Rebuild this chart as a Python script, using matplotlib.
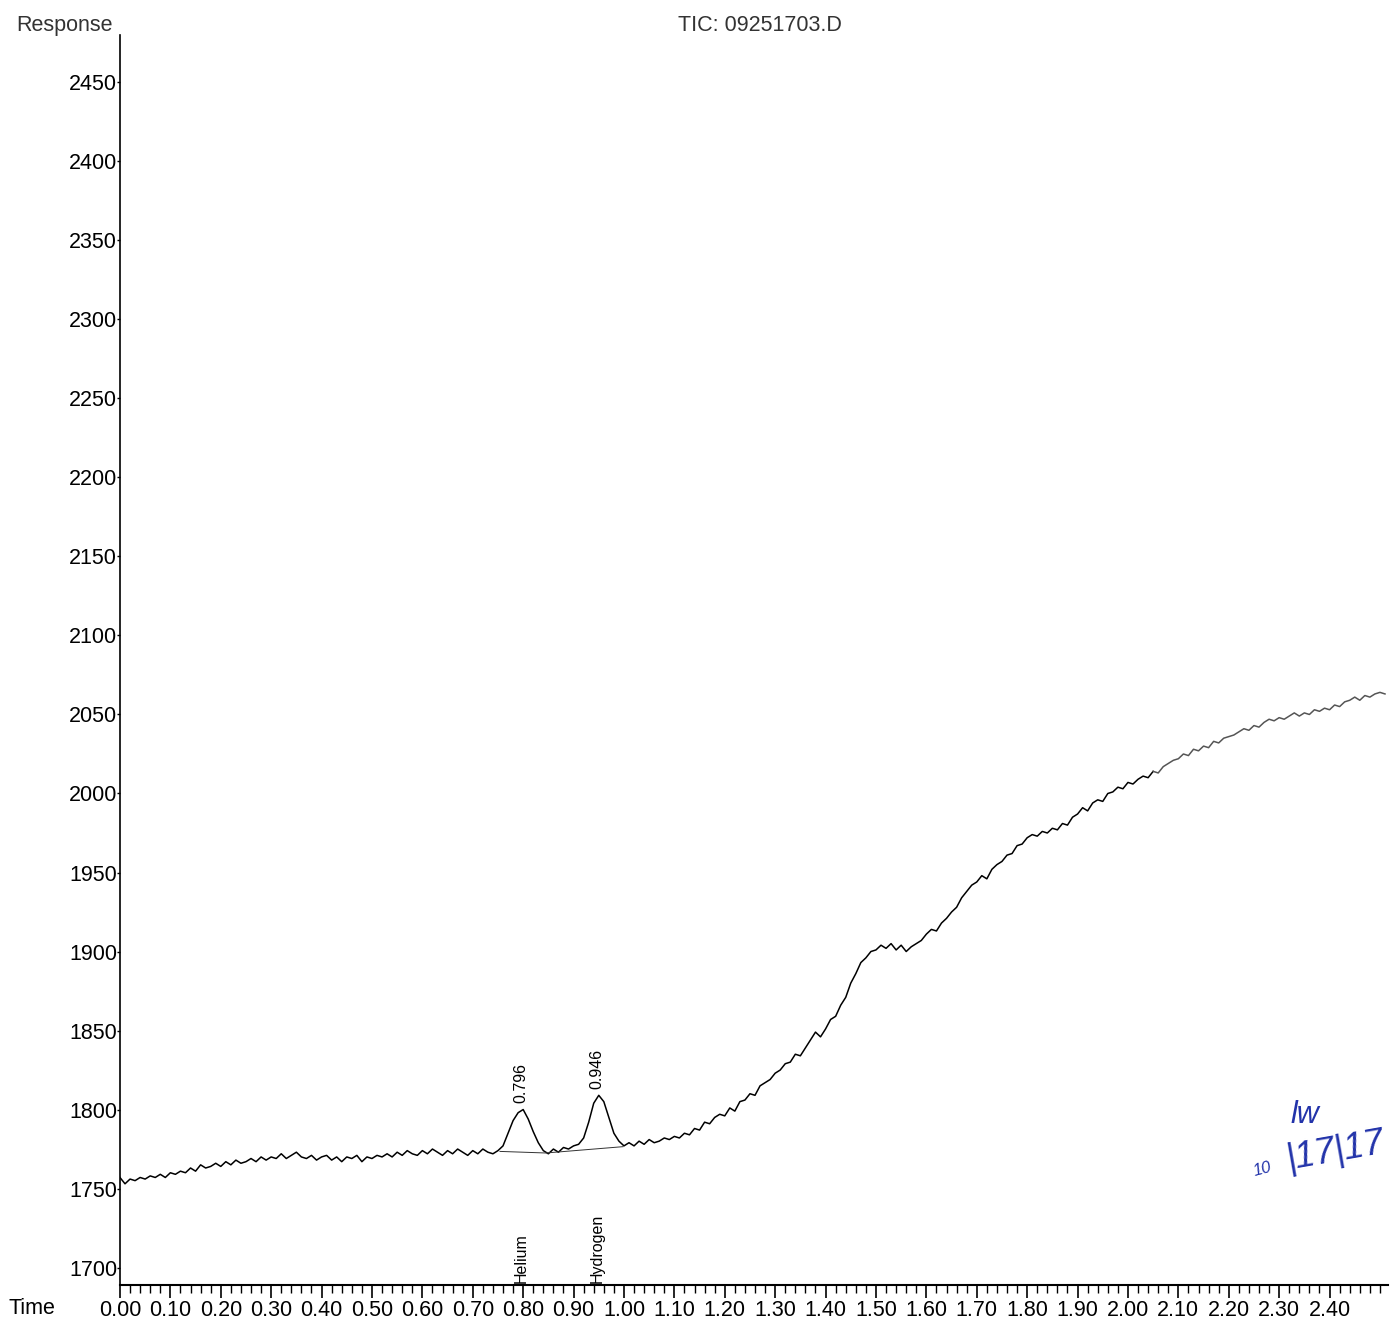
#!/usr/bin/env python

import numpy as np
from matplotlib import pyplot as plt

# chromatogram (time in min, step 0.01)
time = np.round(np.arange(0, 2.515, 0.01), 2)
response = [
    1757, 1753, 1756, 1755, 1757, 1756, 1758, 1757, 1759, 1757,
    1760, 1759, 1761, 1760, 1763, 1761, 1765, 1763, 1764, 1766,
    1764, 1767, 1765, 1768, 1766, 1767, 1769, 1767, 1770, 1768,
    1770, 1769, 1772, 1769, 1771, 1773, 1770, 1769, 1771, 1768,
    1770, 1771, 1768, 1770, 1767, 1770, 1769, 1771, 1767, 1770,
    1769, 1771, 1770, 1772, 1770, 1773, 1771, 1774, 1772, 1771,
    1774, 1772, 1775, 1773, 1771, 1774, 1772, 1775, 1773, 1771,
    1774, 1772, 1775, 1773, 1772, 1774, 1777, 1785, 1793, 1798,
    1800, 1794, 1786, 1779, 1774, 1772, 1775, 1773, 1776, 1775,
    1777, 1778, 1782, 1792, 1804, 1809, 1805, 1795, 1785, 1780,
    1777,
    1779, 1777, 1780, 1778, 1781, 1779, 1780, 1782, 1781, 1783,
    1782, 1785, 1784, 1788, 1787, 1792, 1791, 1795, 1797, 1796,
    1801, 1799, 1805, 1806, 1810, 1809, 1815, 1817, 1819, 1823,
    1825, 1829, 1830, 1835, 1834, 1839, 1844, 1849, 1846, 1851,
    1857, 1859, 1866, 1871, 1880, 1886, 1893, 1896, 1900, 1901,
    1904, 1902, 1905, 1901, 1904, 1900, 1903, 1905, 1907, 1911,
    1914, 1913, 1918, 1921, 1925, 1928, 1934, 1938, 1942, 1944,
    1948, 1946, 1952, 1955, 1957, 1961, 1962, 1967, 1968, 1972,
    1974, 1973, 1976, 1975, 1978, 1977, 1981, 1980, 1985, 1987,
    1991, 1989, 1994, 1996, 1995, 2000, 2001, 2004, 2003, 2007,
    2006, 2009, 2011, 2010, 2014, 2013, 2017, 2019, 2021, 2022,
    2025, 2024, 2028, 2027, 2030, 2029, 2033, 2032, 2035, 2036,
    2037, 2039, 2041, 2040, 2043, 2042, 2045, 2047, 2046, 2048,
    2047, 2049, 2051, 2049, 2051, 2050, 2053, 2052, 2054, 2053,
    2056, 2055, 2058, 2059, 2061, 2059, 2062, 2061, 2063, 2064,
    2063,
]
response = np.array(response, dtype=float)

peak_times = [0.796, 0.946]
peak_heights = [1800, 1809]
peak_names = ["Helium", "Hydrogen"]
base_t = [0.754, 0.845, 0.998]
base_v = [1773.5, 1772.5, 1776.5]

plt.rcParams['font.family'] = ['Liberation Sans', 'DejaVu Sans']

fig = plt.figure(figsize=(13.95, 13.21), dpi=100)
ax = fig.add_axes([0.086, 0.0273, 0.909, 0.9462])

split = time <= 2.05
ax.plot(time[split], response[split], color='black', lw=1.1)
ax.plot(time[time >= 2.05], response[time >= 2.05], color='#555555', lw=1.1)
ax.plot(base_t, base_v, color='#333333', lw=0.7)

for t, h, name in zip(peak_times, peak_heights, peak_names):
    ax.text(t, h + 4, "%.3f" % t, rotation=90, ha='center', va='bottom', fontsize=11.5)
    ax.text(t, 1690, name, rotation=90, ha='center', va='bottom', fontsize=11.5)

ax.set_xlim(0, 2.516)
ax.set_ylim(1689, 2480)
ax.set_xticks(np.round(np.arange(0, 2.41, 0.1), 2))
ax.set_xticks(np.arange(0, 2.52, 0.02), minor=True)
ax.set_xticklabels(["%.2f" % v for v in np.arange(0, 2.41, 0.1)])
ax.set_yticks(np.arange(1700, 2451, 50))
for s in ['top', 'right']:
    ax.spines[s].set_visible(False)
ax.spines['left'].set_linewidth(1.2)
ax.spines['bottom'].set_linewidth(1.5)
ax.tick_params(axis='x', which='major', length=9, width=1.2, labelsize=15.5, pad=2)
ax.tick_params(axis='x', which='minor', length=6, width=1)
ax.tick_params(axis='y', which='major', length=2, width=1, labelsize=15.5, pad=0)

fig.text(0.006, 0.0095, "Time", fontsize=15.5, ha='left', va='center')
fig.text(0.012, 0.981, "Response", fontsize=15.5, ha='left', va='center', color='#333333')
fig.text(0.545, 0.981, "TIC: 09251703.D", fontsize=15.5, ha='center', va='center', color='#333333')

# handwritten date in blue ink
fig.text(0.897, 0.11, "10", fontsize=12, color='#2233aa', style='italic', rotation=15)
fig.text(0.92, 0.115, "|17|17", fontsize=26, color='#2233aa', style='italic', rotation=10)
fig.text(0.925, 0.15, "lw", fontsize=22, color='#2233aa', style='italic')

fig.savefig("out.png")
